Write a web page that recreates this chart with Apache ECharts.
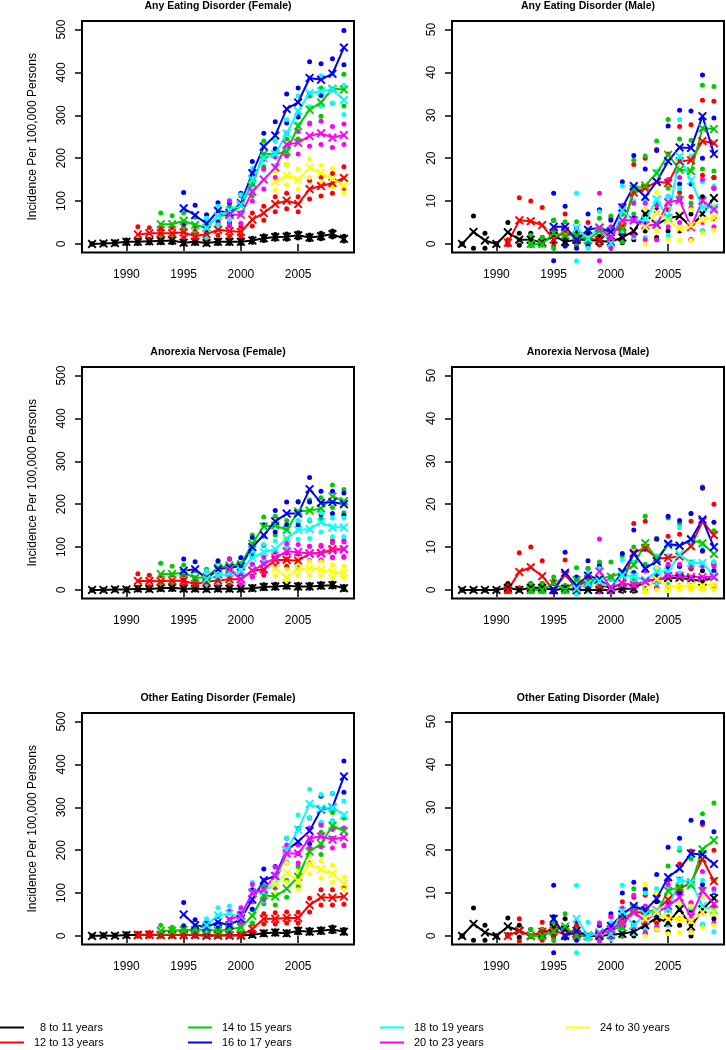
<!DOCTYPE html>
<html>
<head>
<meta charset="utf-8">
<script src="https://cdn.jsdelivr.net/npm/echarts/dist/echarts.min.js"></script>
<style>
html,body{margin:0;padding:0;background:#fff;}
#chart{width:726px;height:1050px;}
</style>
</head>
<body>
<div id="chart"></div>
<script>
// ---------- labels / ticks ----------
const ageGroups = ['8 to 11 years','12 to 13 years','14 to 15 years','16 to 17 years','18 to 19 years','20 to 23 years','24 to 30 years'];
const startYears = [1987, 1991, 1993, 1995, 1997, 1999, 2003];
const xTickYears = [1990, 1995, 2000, 2005];
const femaleTicks = [0, 100, 200, 300, 400, 500];
const maleTicks = [0, 10, 20, 30, 40, 50];
const panelTitles = ['Any Eating Disorder (Female)','Any Eating Disorder (Male)','Anorexia Nervosa (Female)','Anorexia Nervosa (Male)','Other Eating Disorder (Female)','Other Eating Disorder (Male)'];

// ---------- Any Eating Disorder (Female) ----------
const anyFemaleEst = [
  [0,1,2,5,5,6,7,8,3,5,2,5,5,5,8,13,16,17,20,15,18,23,12],
  [22,25,25,25,27,18,23,33,30,28,57,72,93,101,93,128,135,142,154],
  [46,46,54,44,38,65,68,90,140,210,210,215,275,313,330,362,360],
  [83,67,47,77,73,95,165,227,253,315,330,387,383,397,458],
  [37,65,78,92,150,200,210,258,310,352,356,360,336],
  [68,68,122,150,178,232,236,252,258,248,254],
  [145,160,150,178,165,153,135]
];
const anyFemaleLo = [
  [0,0,0,1,1,2,3,3,0,1,0,1,1,1,4,8,11,11,14,10,12,16,7],
  [6,10,12,12,15,8,12,20,18,18,42,55,75,82,75,105,112,118,130],
  [20,22,35,25,20,45,50,68,112,180,182,185,245,282,298,328,322],
  [48,42,28,52,50,72,140,198,222,282,296,350,346,360,418],
  [15,45,55,70,125,172,182,228,280,320,322,328,302],
  [45,48,100,128,155,205,210,228,232,225,232],
  [125,138,128,155,145,132,118]
];
const anyFemaleHi = [
  [0,3,5,9,9,11,12,13,7,9,5,9,9,9,13,19,22,23,26,21,25,30,18],
  [40,38,36,38,40,30,35,45,42,40,72,88,110,118,110,148,156,164,180],
  [72,66,72,62,55,88,88,112,168,240,240,245,305,345,364,398,396],
  [120,90,68,96,96,118,192,258,285,350,364,425,420,432,498],
  [60,88,102,115,176,230,240,290,345,388,392,396,370],
  [100,92,146,175,203,258,262,280,286,274,280],
  [168,185,174,198,183,176,155]
];

// ---------- Any Eating Disorder (Male) ----------
const anyMaleEst = [
  [0,2.8,0.8,0,2.7,1,1,0.3,2,0.5,1,1,0.7,0.5,1.5,3,7,4.5,6,6.5,4,7,10.7],
  [0.3,5.5,5.3,4.4,1,3,1.3,1.2,1,3,4,12,13,14.5,14.2,19.3,19.5,24,23.5],
  [0,0,2.5,2,2,1,3,3,3.5,12.8,13.6,16.5,20.8,17.3,17,27,26.8],
  [4,4,1,3.3,3.8,2.8,8.5,13.5,11,14.5,19.3,22.5,22.4,29.8,21],
  [3.7,1.2,3.9,0.2,7.8,5.5,5.6,10.4,6,20.4,14.8,8.5,8.5],
  [3.8,1.5,5.5,5.5,4.3,4.5,9.7,10.2,3.9,10.1,8],
  [3.9,7.4,5.5,3.5,4.3,5.5,6.1]
];
const anyMaleLo = [
  [0,-1,-1,0,0.3,-0.3,-0.3,0,0.5,-0.3,0,0,-0.2,-0.2,0.3,1,3,1.5,3,3,1,3,6],
  [-0.2,1,1,0.5,-0.5,0.5,-0.3,0.3,-0.2,0.5,1.5,6,7,8,8,12,11,16,15.5],
  [-0.3,-0.3,-1,-0.5,-0.5,-0.2,0.5,0.8,0.5,7,8,9.5,13,11,9.5,17.5,17],
  [-3.9,-0.5,-1,-0.5,0.5,-0.5,2.5,6,5,8,11,14,14,20,13],
  [-4,-1,0.5,-0.8,3,1.5,1.5,5,2,13,8,3,3.5],
  [-3.9,-1,1.5,2,1,1,4,5,1,5,4],
  [0,3,1,0.8,0.8,2.5,3.2]
];
const anyMaleHi = [
  [0,6.5,2.5,0,5,2.5,2.5,1.5,5.5,1.5,2.5,2.5,1.8,1.5,3,5.5,10.5,7.5,9.5,10.5,7,11,15.5],
  [1,10.8,10,8.5,3,7,3.5,5,7.8,6,7,18.5,20,22,21,27.4,27.8,33.5,33.3],
  [2,1.5,5.5,5.2,5.2,3.5,6,6.5,7,19.5,20.5,24,29,24.5,24.2,37,36.7],
  [11.8,8.8,3.5,7,8,5.5,14.5,20.6,17.5,21.8,27.5,31.2,31,39.4,29.4],
  [11.8,3.5,7.5,3,13.5,10,10,17,11,29,20.5,14.5,13.5],
  [11.8,4,9,9.5,9.5,9,15,15.5,8.5,15,13],
  [8,12,9.5,7,8,9,9]
];

// ---------- Anorexia Nervosa (Female) ----------
const anFemaleEst = [
  [0,0,1,1,3,2,4,5,3,3,2,3,3,3,4,7,8,10,8,8,10,11,4],
  [21,21,20,22,21,14,19,22,25,25,45,48,70,70,68,85,85,95,95],
  [37,37,40,28,30,52,57,60,108,148,150,140,183,185,190,218,207],
  [45,48,27,48,52,55,100,128,160,178,178,235,203,205,200],
  [25,33,38,45,75,88,95,120,140,142,158,146,146],
  [48,25,45,60,75,90,88,85,87,92,95],
  [50,30,50,50,48,42,40]
];
const anFemaleLo = [
  [0,0,0,0,0,0,1,1,0,0,0,0,0,0,1,3,4,6,4,4,6,7,1],
  [5,8,8,10,10,4,8,10,12,12,32,35,55,55,52,68,68,76,76],
  [15,18,22,12,14,35,40,42,88,125,128,118,160,162,166,192,180],
  [22,28,10,30,34,37,78,104,135,152,152,205,176,178,174],
  [8,18,22,28,58,70,76,100,118,120,135,124,124],
  [30,12,30,44,58,72,70,68,70,75,78],
  [33,15,35,34,33,28,28]
];
const anFemaleHi = [
  [0,0,3,3,6,5,8,9,6,6,5,6,6,6,8,12,13,15,13,13,15,16,8],
  [38,34,33,35,34,25,30,35,38,38,60,62,88,86,84,102,102,115,115],
  [62,55,58,45,48,65,72,75,128,170,172,162,207,210,215,245,234],
  [72,66,45,68,72,75,122,152,185,205,205,262,230,230,226],
  [45,50,55,62,92,106,114,140,162,164,180,168,168],
  [72,40,60,76,92,108,106,102,104,110,112],
  [68,48,68,67,66,58,55]
];

// ---------- Anorexia Nervosa (Male) ----------
const anMaleEst = [
  [0,0,0,0,0.5,0,0.5,0.5,0,0.3,0,0,0,0,0.3,0.3,2,2.5,2.8,2.8,2.5,2,3],
  [0,4.2,5.3,3.2,0,3.5,0.5,2.5,1,0.5,1.5,8.7,9.8,7.3,7.5,7.8,10.2,16,12.8],
  [0,0,1.5,0,2.3,2,2.7,3.1,4,5.8,10.9,7.3,10.5,10.3,11.7,10.9,8.4],
  [0,4,1,3.3,2.5,0.5,4.2,8.4,5,6.7,10.8,10.3,11.8,16.4,10],
  [0.3,1.5,2,0.5,3.4,3.2,2.3,4.3,4.3,8.3,6.3,6.3,3.2],
  [4.3,0.5,1.5,1.2,2,2.3,3.3,3.3,3,3,3],
  [0,2.5,0.8,1,1,1,1.2]
];
const anMaleLo = [
  [0,0,0,0,-0.3,0,-0.3,-0.3,0,-0.3,0,0,0,0,-0.3,-0.3,0.3,0.5,0.8,0.8,0.5,0.3,0.5],
  [-0.3,0.5,1,0.5,-0.3,0.5,-0.3,0.3,-0.3,-0.5,0.3,4,4.5,3,3.5,3.5,5,9,6.5],
  [-0.3,-0.3,-0.3,-0.3,0,0,0.3,0.5,1,2.5,6,3.5,5.5,5.5,6.5,6,4.5],
  [-0.5,0.5,-0.5,0.5,0,-0.5,1,4,2,3.5,5,5.5,6,9.2,4.5],
  [-1,-0.3,0,-0.5,1,1,0.5,1.5,1.5,4,3,3,1],
  [-0.5,-0.5,0,0,0.3,0.5,1,1,1,1,1],
  [-0.5,0,-0.2,0,0,0,0]
];
const anMaleHi = [
  [0,0,0,0,1.5,0,1.5,1.5,0,1,0,0,0,0,1.2,1.2,4.5,5,5.5,5.5,5,4.5,6],
  [1,8.7,10,6.8,2,7,2.5,5,6.3,3,4,15.5,16,12,12.5,13,16,24,20],
  [1.5,1.5,3,1,5.2,5,6.5,6.5,8,10,17.2,12,16.8,15.5,17.8,16,13.8],
  [1.5,8.8,3,6.8,5.5,2.5,8.5,14,9.5,11.8,17.2,16.2,17.8,23.7,15.8],
  [2,4,5,2.5,7,6.5,5,8,8,14.5,10.5,10.5,6.5],
  [11.9,3,4,3.5,4.5,5,6,6,5.5,5.5,5.5],
  [1.5,5,2.5,3,3,3,3.5]
];

// ---------- Other Eating Disorder (Female) ----------
const otherFemaleEst = [
  [0,1,0.5,2,2,3,2,2,2,2,0.5,1,1,1,3,6,8,6,12,10,12,15,10],
  [2,3,2,2,2,2,2,2,2,2,16,40,40,42,42,72,90,89,92],
  [12,12,14,14,15,12,15,20,47,95,92,110,138,197,215,257,245],
  [50,25,20,32,25,40,85,130,140,200,220,245,295,300,372],
  [25,48,52,45,102,105,120,200,248,308,297,300,282],
  [38,48,100,108,140,192,192,228,232,225,230],
  [120,148,128,168,155,145,122]
];
const otherFemaleLo = [
  [0,0,0,0,0,0,0,0,0,0,0,0,0,0,1,3,4,3,7,6,8,10,6],
  [0,0,0,0,0,0,0,0,0,0,8,28,28,30,30,56,72,72,74],
  [2,3,5,5,5,3,5,8,30,75,72,90,115,170,190,228,212],
  [22,10,8,18,12,24,62,108,115,172,192,215,262,268,335],
  [10,30,35,28,80,82,95,172,215,275,265,268,250],
  [22,30,80,85,115,170,170,205,208,205,210],
  [100,125,108,145,135,125,108]
];
const otherFemaleHi = [
  [0,3,2,5,5,6,5,5,5,5,2,3,3,3,6,10,12,10,17,15,17,21,15],
  [6,8,6,6,6,6,6,6,6,6,28,52,54,56,55,88,108,108,112],
  [25,20,25,22,24,20,24,30,62,118,112,130,162,225,242,288,275],
  [78,38,32,46,38,56,108,156,162,228,250,275,326,332,408],
  [40,66,70,62,125,128,145,228,282,342,330,332,315],
  [58,66,120,130,160,212,212,252,258,248,252],
  [140,170,150,190,175,165,138]
];

// ---------- Other Eating Disorder (Male) ----------
const otherMaleEst = [
  [0,2.8,0.8,0,2.2,1.2,0,0.3,2,1.5,0.5,0,0,0.3,0.5,1,2.5,4.2,3.1,6.2,2.2,6.2,8.8],
  [0,1.2,0,1,1.3,0.3,0.5,0,0.5,1.5,4,5.5,5.5,6,8.5,11,12.5,18,12.8],
  [0,0,1,2.2,0,0,0.8,1.5,2,6.5,6,5.5,10.5,11.5,11.8,20.2,22.3],
  [4,0,1.2,0,0.5,2.3,5,7,6,8.7,13.7,15.7,19.2,19,16.8],
  [4,0,0.8,0.5,5.8,2.5,5,6,6.3,13,12.5,7,6],
  [0.5,1.5,3,5.5,3.5,5.5,7,9,4.5,10.5,7.5],
  [4,5.5,4,4,3.5,5.5,5.5]
];
const otherMaleLo = [
  [0,-1,-1,0,0.3,-0.3,-0.2,-0.2,0,0,0,0,0,-0.2,0,0,0.5,1.5,1,2.5,0,2.5,4],
  [0,-1.2,0,-1,-0.3,-0.3,-0.3,0,-0.3,-0.3,1,2.5,2.5,3,4.5,6.5,7.5,11,7],
  [0,-0.3,-1,-0.5,-0.3,0,-0.3,0,0,3,2.5,2,6,6.5,6.5,11,13],
  [-3.9,-0.5,-1,0,-0.3,0,2,3,2.5,4.5,8,10,12,12,9.5],
  [-3.9,-0.8,-0.8,-0.8,1,0.5,1.5,2,2.5,7,6.5,2.8,1],
  [-1.2,-0.3,0.5,2,0.8,2,3,4,1,5.5,3],
  [0,1.5,0.5,0.8,0.8,2,2.5]
];
const otherMaleHi = [
  [0,6.5,2.5,0,4.2,2.5,1.5,1.5,4.5,4,2,0,0,1.5,2,3,5.5,8,8,10,6,11,13],
  [0,4,0,3.2,3.2,1.5,2.5,0,2.5,4.5,8,9,9.5,10,13,16.8,19.8,26,20],
  [1.5,1.5,3,5.2,1.5,0,2.5,3,5,11,11,10,16.3,20,18,28.5,31],
  [11.8,2,3.5,0,2.5,5.2,10,12.5,10.7,14.3,20.7,22.8,27,26.5,24.3],
  [11.8,3.2,3,3,11.8,6.5,10,11,11.5,20.5,19,13,10.5],
  [3,4.5,6.5,9.5,7,9.5,12,13.3,7.8,15,11],
  [12,10,8.5,7.5,7,9,9]
];

// ---------- styling ----------
const groupColors = ['#000000','#FF0000','#00CD00','#0000FF','#00FFFF','#FF00FF','#FFFF00'];
const FONT = 'Liberation Sans, Arial, Helvetica, sans-serif';
const xSymbol = 'path://M0,1.5 L1.5,0 L5,3.5 L8.5,0 L10,1.5 L6.5,5 L10,8.5 L8.5,10 L5,6.5 L1.5,10 L0,8.5 L3.5,5 Z';

const panels = [
  {est: anyFemaleEst, lo: anyFemaleLo, hi: anyFemaleHi, female: true},
  {est: anyMaleEst, lo: anyMaleLo, hi: anyMaleHi, female: false},
  {est: anFemaleEst, lo: anFemaleLo, hi: anFemaleHi, female: true},
  {est: anMaleEst, lo: anMaleLo, hi: anMaleHi, female: false},
  {est: otherFemaleEst, lo: otherFemaleLo, hi: otherFemaleHi, female: true},
  {est: otherMaleEst, lo: otherMaleLo, hi: otherMaleHi, female: false}
];

const gridLefts = [82, 452];
const gridTops = [21, 367, 713];
const gridW = 272, gridH = 231.5;

const grids = [], xAxes = [], yAxes = [], series = [], graphics = [];
panels.forEach((p, i) => {
  const col = i % 2, row = Math.floor(i / 2);
  grids.push({left: gridLefts[col], top: gridTops[row], width: gridW, height: gridH,
    show: true, borderColor: '#000', borderWidth: 2, backgroundColor: 'transparent'});
  xAxes.push({gridIndex: i, type: 'value', min: 1986.12, max: 2009.88,
    splitLine: {show: false}, axisLine: {show: false},
    axisTick: {show: true, inside: false, length: 7, lineStyle: {color: '#000', width: 1.5}, customValues: xTickYears},
    axisLabel: {customValues: xTickYears, margin: 16, fontSize: 12, color: '#000', fontFamily: FONT,
      formatter: v => String(Math.round(v))}
  });
  const ticks = p.female ? femaleTicks : maleTicks;
  const ya = {gridIndex: i, type: 'value', min: p.female ? -20 : -2, max: p.female ? 520 : 52,
    splitLine: {show: false}, axisLine: {show: false},
    axisTick: {show: true, inside: false, length: 7, lineStyle: {color: '#000', width: 1.5}, customValues: ticks},
    axisLabel: {customValues: ticks, rotate: 90, margin: 14, fontSize: 12, color: '#000', fontFamily: FONT,
      formatter: v => String(Math.round(v))}
  };
  if (col === 0) {
    ya.name = 'Incidence Per 100,000 Persons';
    ya.nameLocation = 'middle';
    ya.nameRotate = 90;
    ya.nameGap = 43;
    ya.nameTextStyle = {fontSize: 12, color: '#000', fontFamily: FONT};
  }
  yAxes.push(ya);
  graphics.push({type: 'text', x: gridLefts[col] + gridW / 2, y: gridTops[row] - 15,
    style: {text: panelTitles[i], font: 'bold 10.5px ' + FONT, fill: '#000',
      align: 'center', verticalAlign: 'middle', textAlign: 'center', textVerticalAlign: 'middle'}});

  ageGroups.forEach((name, g) => {
    const c = groupColors[g];
    const ci = [];
    p.lo[g].forEach((v, k) => ci.push([startYears[g] + k, v]));
    p.hi[g].forEach((v, k) => ci.push([startYears[g] + k, v]));
    series.push({type: 'scatter', name: name + ' CI', xAxisIndex: i, yAxisIndex: i,
      data: ci, symbol: 'circle', symbolSize: 5, itemStyle: {color: c, opacity: 1},
      clip: false, silent: true, animation: false});
    series.push({type: 'line', name: name, xAxisIndex: i, yAxisIndex: i,
      data: p.est[g].map((v, k) => [startYears[g] + k, v]),
      symbol: xSymbol, symbolSize: 9, showSymbol: true, showAllSymbol: true,
      itemStyle: {color: c}, lineStyle: {color: c, width: 2},
      clip: false, silent: true, animation: false});
  });
});

const legendCols = [[0, 1], [2, 3], [4, 5], [6]];
const legendLefts = [0, 188, 380, 566];
const legends = legendCols.map((idx, c) => ({
  left: legendLefts[c], top: 1021, orient: 'vertical', padding: 0, itemGap: 2,
  itemWidth: 24, itemHeight: 2, icon: 'rect', selectedMode: false,
  data: idx.map(k => ageGroups[k]),
  formatter: n => (n === '8 to 11 years' ? '  ' + n : n),
  textStyle: {fontSize: 11, color: '#000', fontFamily: FONT, lineHeight: 13, padding: [0, 0, 0, 5]}
}));

const chart = echarts.init(document.getElementById('chart'), null, {renderer: 'canvas'});
chart.setOption({
  animation: false,
  backgroundColor: '#fff',
  grid: grids, xAxis: xAxes, yAxis: yAxes, series: series,
  legend: legends, graphic: graphics
});
</script>
</body>
</html>
